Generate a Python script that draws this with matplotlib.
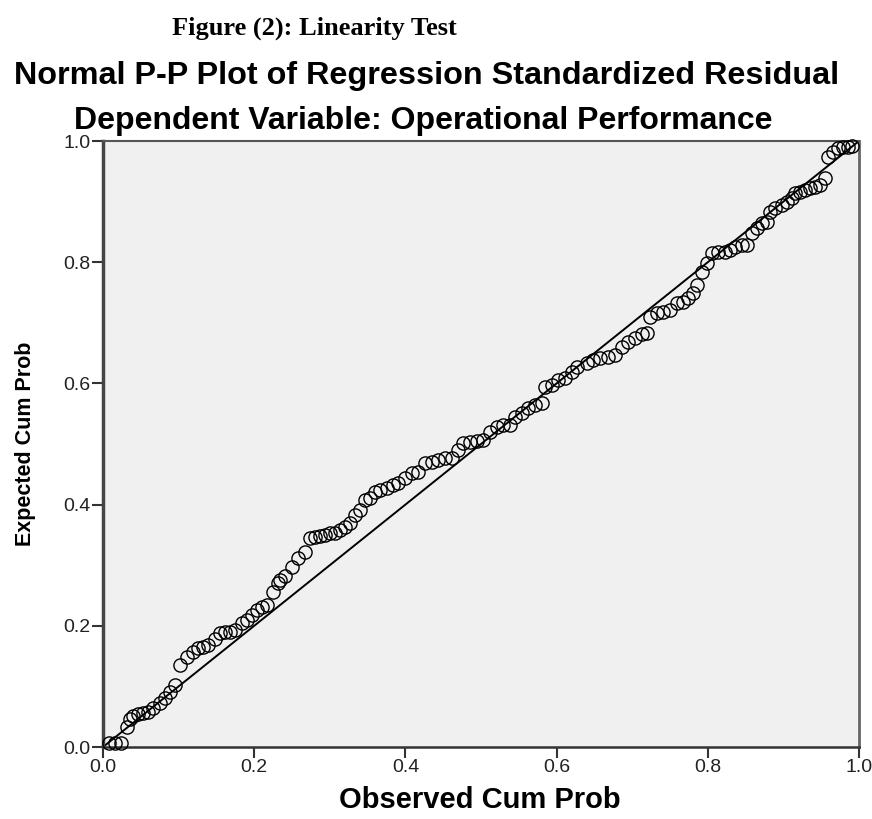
import matplotlib
matplotlib.use("Agg")
import matplotlib.pyplot as plt

# observed cumulative probability (x) and expected cumulative probability (y)
observed = [
    0.008, 0.016, 0.024, 0.032, 0.036, 0.040, 0.046, 0.053, 0.060, 0.066,
    0.075, 0.082, 0.089, 0.095, 0.102, 0.111, 0.119, 0.126, 0.132, 0.139,
    0.148, 0.155, 0.161, 0.168, 0.175, 0.184, 0.190, 0.197, 0.204, 0.210,
    0.217, 0.225, 0.231, 0.234, 0.241, 0.250, 0.258, 0.267, 0.274, 0.280,
    0.287, 0.294, 0.300, 0.307, 0.313, 0.320, 0.327, 0.333, 0.340, 0.347,
    0.353, 0.360, 0.366, 0.376, 0.384, 0.390, 0.399, 0.409, 0.417, 0.426,
    0.435, 0.443, 0.452, 0.462, 0.470, 0.476, 0.485, 0.495, 0.503, 0.512,
    0.521, 0.529, 0.538, 0.545, 0.554, 0.562, 0.571, 0.581, 0.585, 0.594,
    0.602, 0.611, 0.620, 0.627, 0.640, 0.648, 0.657, 0.668, 0.677, 0.687,
    0.694, 0.704, 0.713, 0.720, 0.724, 0.733, 0.741, 0.750, 0.759, 0.767,
    0.774, 0.780, 0.786, 0.792, 0.799, 0.806, 0.813, 0.823, 0.829, 0.836,
    0.845, 0.852, 0.858, 0.865, 0.872, 0.878, 0.882, 0.889, 0.898, 0.905,
    0.911, 0.915, 0.922, 0.929, 0.935, 0.942, 0.948, 0.955, 0.959, 0.966,
    0.972, 0.979, 0.985, 0.991,
]
expected = [
    0.007, 0.007, 0.007, 0.033, 0.046, 0.051, 0.054, 0.056, 0.058, 0.064,
    0.073, 0.081, 0.091, 0.102, 0.135, 0.149, 0.157, 0.163, 0.165, 0.168,
    0.178, 0.188, 0.190, 0.190, 0.193, 0.205, 0.210, 0.218, 0.226, 0.231,
    0.234, 0.256, 0.271, 0.276, 0.282, 0.297, 0.312, 0.322, 0.345, 0.347,
    0.348, 0.350, 0.353, 0.353, 0.358, 0.363, 0.370, 0.383, 0.391, 0.408,
    0.411, 0.421, 0.424, 0.427, 0.432, 0.436, 0.444, 0.452, 0.454, 0.469,
    0.470, 0.474, 0.477, 0.477, 0.490, 0.502, 0.503, 0.505, 0.507, 0.520,
    0.528, 0.531, 0.531, 0.545, 0.551, 0.559, 0.564, 0.568, 0.594, 0.597,
    0.606, 0.609, 0.619, 0.627, 0.634, 0.639, 0.642, 0.644, 0.647, 0.660,
    0.668, 0.675, 0.682, 0.683, 0.710, 0.716, 0.718, 0.721, 0.733, 0.734,
    0.741, 0.749, 0.762, 0.784, 0.799, 0.815, 0.817, 0.817, 0.820, 0.825,
    0.828, 0.828, 0.848, 0.856, 0.865, 0.866, 0.883, 0.889, 0.894, 0.899,
    0.906, 0.914, 0.916, 0.919, 0.922, 0.924, 0.927, 0.939, 0.974, 0.982,
    0.988, 0.990, 0.990, 0.992,
]
ref_line = [0.0, 1.0]
ticks = [0.0, 0.2, 0.4, 0.6, 0.8, 1.0]
tick_labels = ["0.0", "0.2", "0.4", "0.6", "0.8", "1.0"]

fig = plt.figure(figsize=(8.72, 8.19), dpi=100)
ax = fig.add_axes([103 / 872, 72 / 819, 756 / 872, 606 / 819])
ax.set_facecolor("#f0f0f0")

ax.plot(ref_line, ref_line, color="black", lw=1.4, zorder=2)
ax.plot(observed, expected, ls="none", marker="o", ms=9.5, mfc="none",
        mec="black", mew=1.0, zorder=3, clip_on=False)

ax.set_xlim(0, 1)
ax.set_ylim(0, 1)
ax.set_xticks(ticks)
ax.set_xticklabels(tick_labels)
ax.set_yticks(ticks)
ax.set_yticklabels(tick_labels)
ax.tick_params(direction="out", length=8, width=1.5, color="#333333",
               labelsize=14, pad=1, labelcolor="#222222")
for lab in ax.get_xticklabels() + ax.get_yticklabels():
    lab.set_family("Liberation Sans")

ax.spines["left"].set_linewidth(2.5)
ax.spines["left"].set_color("#444444")
ax.spines["bottom"].set_linewidth(1.8)
ax.spines["bottom"].set_color("#333333")
ax.spines["top"].set_linewidth(1.5)
ax.spines["top"].set_color("#555555")
ax.spines["right"].set_linewidth(2.0)
ax.spines["right"].set_color("#666666")

# axis titles placed as figure text so they sit where the reference has them
fig.text(480 / 872, 1 - 800 / 819, "Observed Cum Prob", family="Liberation Sans",
         fontweight="bold", fontsize=21, ha="center", va="center")
fig.text(25 / 872, 1 - 444 / 819, "Expected Cum Prob", family="Liberation Sans",
         fontweight="bold", fontsize=15.5, ha="center", va="center", rotation=90)

fig.text(314 / 872, 1 - 28 / 819, "Figure (2): Linearity Test", family="Liberation Serif",
         fontweight="bold", fontsize=19, ha="center", va="center")
fig.text(427 / 872, 1 - 76 / 819, "Normal P-P Plot of Regression Standardized Residual",
         family="Liberation Sans", fontweight="bold", fontsize=23.3, ha="center", va="center")
fig.text(423 / 872, 1 - 121 / 819, "Dependent Variable: Operational Performance",
         family="Liberation Sans", fontweight="bold", fontsize=23, ha="center", va="center")

fig.savefig("out.png", dpi=100)
